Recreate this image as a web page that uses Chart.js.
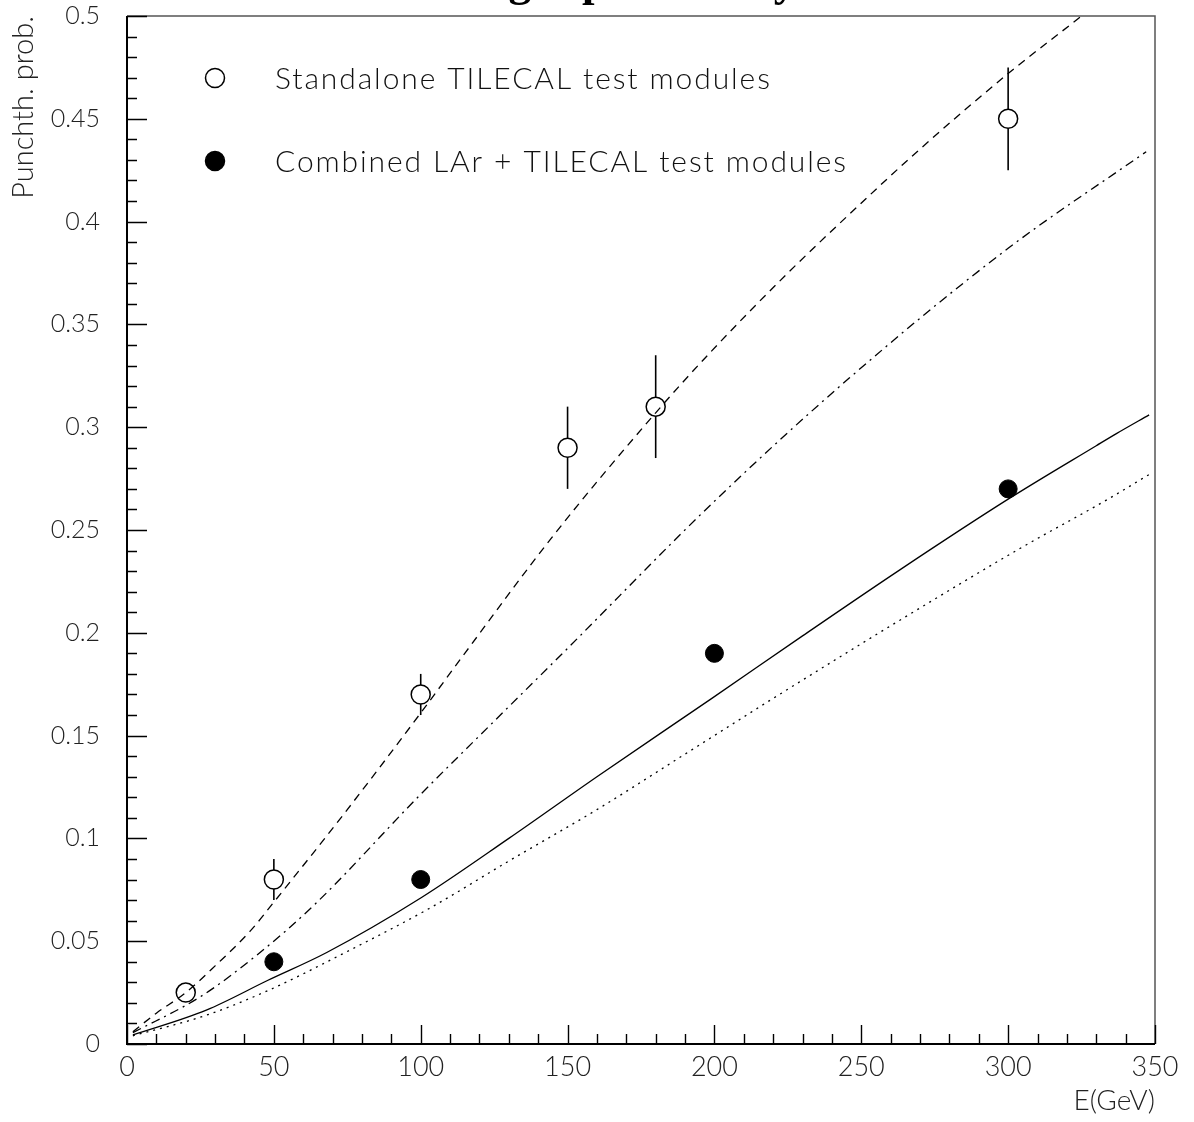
<!DOCTYPE html>
<html><head><meta charset="utf-8">
<script src="https://cdn.jsdelivr.net/npm/chart.js@4.4.1/dist/chart.umd.min.js"></script>
<style>html,body{margin:0;padding:0;background:#fff;overflow:hidden}#wrap{width:1194px;height:1122px}</style>
</head><body><div id="wrap"><canvas id="c" width="1194" height="1122"></canvas></div>
<script>
// ---- data ----
const titleWords = ['Punchthrough', 'probability'];
const xTitle = 'E(GeV)';
const yTitle = 'Punchth. prob.';
const xTickLabels = ['0', '50', '100', '150', '200', '250', '300', '350'];
const yTickLabels = ['0', '0.05', '0.1', '0.15', '0.2', '0.25', '0.3', '0.35', '0.4', '0.45', '0.5'];

const standaloneLabel = 'Standalone TILECAL test modules';
const standaloneE = [20, 50, 100, 150, 180, 300];
const standaloneP = [0.025, 0.08, 0.17, 0.29, 0.31, 0.45];
const standaloneErr = [0, 0.01, 0.01, 0.02, 0.025, 0.025];

const combinedLabel = 'Combined LAr + TILECAL test modules';
const combinedE = [50, 100, 200, 300];
const combinedP = [0.04, 0.08, 0.19, 0.27];

const dashedE = [2, 10, 20, 30, 42, 50, 75, 100, 115, 145, 180, 199, 225, 247, 269, 300, 325, 332];
const dashedP = [0.006, 0.015, 0.025, 0.038, 0.055, 0.069, 0.114, 0.161, 0.19, 0.247, 0.307, 0.337, 0.375, 0.405, 0.434, 0.472, 0.5, 0.508];

const dashDotE = [2, 25, 44, 64, 99, 125, 149, 200, 246, 300, 347];
const dashDotP = [0.0055, 0.023, 0.043, 0.068, 0.120, 0.157, 0.191, 0.264, 0.324, 0.387, 0.434];

const solidE = [2, 27, 48, 68, 100, 130, 160, 199, 230, 263, 300, 330, 337, 348];
const solidP = [0.0044, 0.0165, 0.031, 0.0445, 0.071, 0.1, 0.13, 0.168, 0.1985, 0.2305, 0.265, 0.291, 0.297, 0.306];

const dottedE = [2, 27, 48, 75, 103, 130, 160, 190, 221, 263, 304, 334, 348];
const dottedP = [0.004, 0.014, 0.026, 0.045, 0.066, 0.089, 0.114, 0.141, 0.169, 0.206, 0.241, 0.265, 0.277];

// ---- helpers ----
const pts = (xs, ys) => xs.map((x, i) => ({x, y: ys[i]}));
const FONT = 'Lato';
const curve = (xs, ys, dash) => ({
  data: pts(xs, ys), showLine: true, pointRadius: 0, borderColor: '#000', borderWidth: 1.3,
  borderDash: dash, cubicInterpolationMode: 'monotone', fill: false
});

const frameAndTicks = {
  id: 'frameAndTicks',
  beforeDatasetsDraw(chart) {
    const ctx = chart.ctx, xs = chart.scales.x, ys = chart.scales.y;
    ctx.save();
    ctx.strokeStyle = '#000'; ctx.lineWidth = 1.6;
    standaloneE.forEach((e, i) => {
      if (!standaloneErr[i]) return;
      const px = xs.getPixelForValue(e);
      ctx.beginPath();
      ctx.moveTo(px, ys.getPixelForValue(standaloneP[i] - standaloneErr[i]));
      ctx.lineTo(px, ys.getPixelForValue(standaloneP[i] + standaloneErr[i]));
      ctx.stroke();
    });
    ctx.restore();
  },
  afterDraw(chart) {
    const ctx = chart.ctx, xs = chart.scales.x, ys = chart.scales.y, a = chart.chartArea;
    ctx.save();
    ctx.strokeStyle = '#555'; ctx.lineWidth = 1.5;
    ctx.beginPath(); ctx.moveTo(a.left, a.top); ctx.lineTo(a.right, a.top); ctx.lineTo(a.right, a.bottom); ctx.stroke();
    ctx.strokeStyle = '#000'; ctx.lineWidth = 2;
    ctx.beginPath(); ctx.moveTo(a.left, a.top); ctx.lineTo(a.left, a.bottom); ctx.lineTo(a.right, a.bottom); ctx.stroke();
    ctx.lineWidth = 1.4;
    ctx.beginPath();
    for (let v = 0; v <= 350; v += 10) {
      const px = Math.round(xs.getPixelForValue(v)) + 0.5;
      const len = v % 50 === 0 ? 19 : 10;
      ctx.moveTo(px, a.bottom); ctx.lineTo(px, a.bottom - len);
    }
    for (let k = 0; k <= 50; k++) {
      const py = Math.round(ys.getPixelForValue(k / 100)) + 0.5;
      const len = k % 5 === 0 ? 20 : 10;
      ctx.moveTo(a.left, py); ctx.lineTo(a.left + len, py);
    }
    ctx.stroke();
    // legend
    const legend = [
      {y: 78, fill: '#fff', label: chart.data.datasets[4].label},
      {y: 161, fill: '#000', label: chart.data.datasets[5].label}
    ];
    ctx.font = '300 30px ' + FONT;
    ctx.textBaseline = 'middle'; ctx.textAlign = 'left';
    try { ctx.letterSpacing = '1.9px'; } catch (e) {}
    legend.forEach(l => {
      ctx.beginPath(); ctx.arc(215, l.y, 9.5, 0, Math.PI * 2);
      ctx.fillStyle = l.fill; ctx.fill(); ctx.strokeStyle = '#000'; ctx.lineWidth = 1.5; ctx.stroke();
      ctx.fillStyle = '#111'; ctx.fillText(l.label, 275, l.y + 1);
    });
    try { ctx.letterSpacing = '0px'; } catch (e) {}
    // title (mostly above the visible area)
    ctx.font = 'bold 45px "Liberation Serif"'; ctx.fillStyle = '#000'; ctx.textBaseline = 'alphabetic';
    ctx.textAlign = 'right'; ctx.fillText(titleWords[0], 556, -4);
    ctx.textAlign = 'left'; ctx.fillText(titleWords[1], 582, -4);
    ctx.restore();
  }
};

new Chart(document.getElementById('c'), {
  type: 'scatter',
  data: {
    datasets: [
      curve(dashedE, dashedP, [8, 6]),
      curve(dashDotE, dashDotP, [9, 5, 2, 5]),
      curve(solidE, solidP, []),
      curve(dottedE, dottedP, [2, 5]),
      {label: standaloneLabel, data: pts(standaloneE, standaloneP), pointRadius: 9.5, pointBackgroundColor: '#fff',
       pointBorderColor: '#000', pointBorderWidth: 1.5, showLine: false},
      {label: combinedLabel, data: pts(combinedE, combinedP), pointRadius: 9, pointBackgroundColor: '#000',
       pointBorderColor: '#000', pointBorderWidth: 1, showLine: false}
    ]
  },
  options: {
    responsive: false, animation: false, devicePixelRatio: 1,
    layout: {padding: {top: 16, right: 39, left: 0, bottom: 0}},
    plugins: {legend: {display: false}, tooltip: {enabled: false}},
    scales: {
      x: {
        type: 'linear', min: 0, max: 350,
        grid: {display: false, drawTicks: false}, border: {display: false},
        ticks: {stepSize: 50, autoSkip: false, maxRotation: 0, padding: 7, color: '#222',
                font: {family: FONT, size: 27, weight: 300},
                callback: (v, i) => xTickLabels[i]},
        title: {display: true, text: xTitle, align: 'end', color: '#222',
                font: {family: FONT, size: 28, weight: 300}, padding: {top: 0, bottom: 4}},
        afterFit: s => { s.height = 78; s.paddingLeft = 0; s.paddingRight = 0; }
      },
      y: {
        type: 'linear', min: 0, max: 0.5,
        grid: {display: false, drawTicks: false}, border: {display: false},
        ticks: {stepSize: 0.05, autoSkip: false, padding: 27, color: '#222',
                font: {family: FONT, size: 25, weight: 300},
                callback: (v, i) => yTickLabels[i]},
        title: {display: true, text: yTitle, align: 'end', color: '#222',
                font: {family: FONT, size: 29, weight: 300}, padding: {top: 6, bottom: 0}},
        afterFit: s => { s.width = 127; s.paddingTop = 0; s.paddingBottom = 0; }
      }
    }
  },
  plugins: [frameAndTicks]
});
</script>
</body></html>
